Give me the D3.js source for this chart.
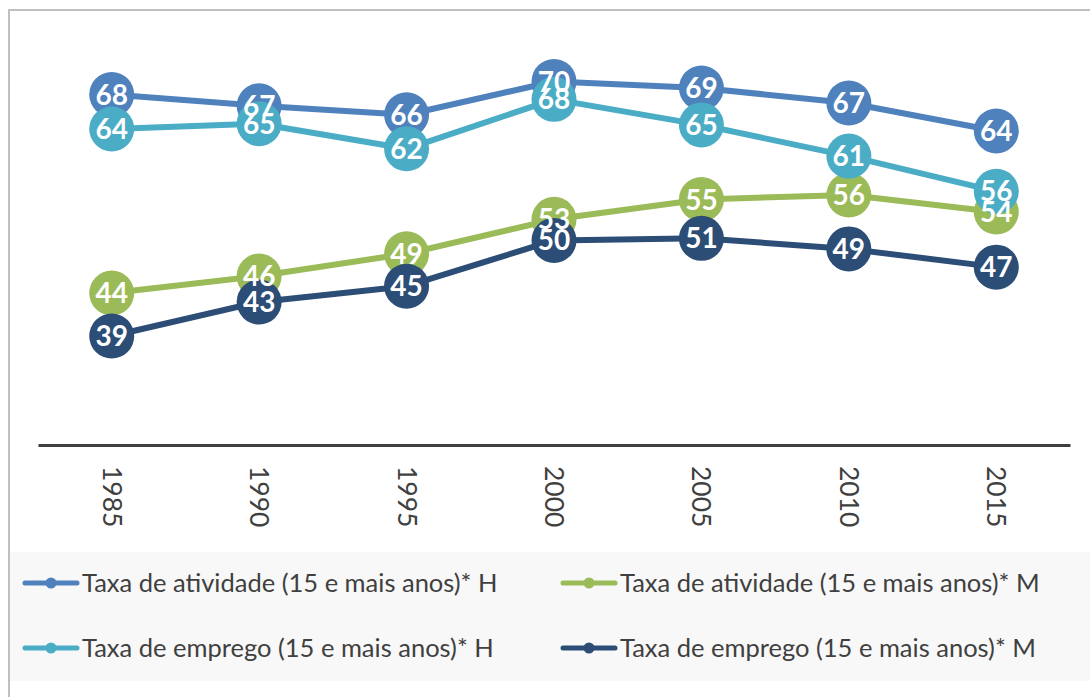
<!DOCTYPE html>
<html>
<head>
<meta charset="utf-8">
<script src="https://cdn.jsdelivr.net/npm/d3@7"></script>
<style>
  html, body { margin: 0; padding: 0; background: #fff; }
  svg { display: block; font-family: Lato, "Open Sans", sans-serif; }
</style>
</head>
<body>
<div id="chart"></div>
<script>
// anos (categorias)
const anos = ['1985', '1990', '1995', '2000', '2005', '2010', '2015'];

// valores (%)
const atividadeH = [68.4, 67.0, 65.9, 70.0, 69.2, 67.35, 63.9];
const atividadeM = [43.9, 46.0, 48.75, 53.0, 55.45, 56.0, 53.9];
const empregoH = [64.15, 64.8, 61.7, 67.8, 64.65, 60.8, 56.45];
const empregoM = [38.6, 42.8, 44.75, 50.4, 50.65, 49.35, 47.1];

const nomes = [
    'Taxa de atividade (15 e mais anos)* H',
    'Taxa de atividade (15 e mais anos)* M',
    'Taxa de emprego (15 e mais anos)* H',
    'Taxa de emprego (15 e mais anos)* M'
];
const cores = ['#4F81BD', '#9BBB59', '#4BACC6', '#2C4D75'];

const series = [atividadeH, atividadeM, empregoH, empregoM].map((valores, i) => ({
    nome: nomes[i],
    cor: cores[i],
    pontos: valores.map((v, j) => ({ ano: anos[j], valor: v }))
}));

const width = 1090, height = 697;

const svg = d3.select('#chart').append('svg')
    .attr('width', width)
    .attr('height', height);

// moldura
svg.append('rect')
    .attr('x', 9).attr('y', 10)
    .attr('width', 1200).attr('height', 800)
    .attr('fill', '#fff')
    .attr('stroke', '#bfbfbf')
    .attr('stroke-width', 2);

const x = d3.scalePoint()
    .domain(anos)
    .range([38, 1070])
    .padding(0.5);

const y = d3.scaleLinear()
    .domain([25.4, 75])
    .range([443, 41]);

// eixo das categorias
const eixo = svg.append('g')
    .attr('transform', 'translate(0,445)')
    .call(d3.axisBottom(x).tickSize(0).tickSizeOuter(0));

eixo.select('.domain')
    .attr('stroke', '#404040')
    .attr('stroke-width', 3);

eixo.selectAll('.tick text')
    .attr('transform', 'rotate(90)')
    .attr('x', 21)
    .attr('y', 0)
    .attr('dy', '0.36em')
    .style('text-anchor', 'start')
    .style('font-family', 'Lato, sans-serif')
    .style('font-size', '26.5px')
    .attr('fill', '#404040');

// linhas + marcadores por série
const linha = d3.line()
    .x(d => x(d.ano))
    .y(d => y(d.valor));

const grupos = svg.selectAll('.serie')
    .data(series)
    .enter()
    .append('g')
    .attr('class', 'serie');

grupos.append('path')
    .attr('d', d => linha(d.pontos))
    .attr('fill', 'none')
    .attr('stroke', d => d.cor)
    .attr('stroke-width', 6)
    .attr('stroke-linejoin', 'round');

grupos.selectAll('circle')
    .data(d => d.pontos.map(p => ({ ...p, cor: d.cor })))
    .enter()
    .append('circle')
    .attr('cx', d => x(d.ano))
    .attr('cy', d => y(d.valor))
    .attr('r', 22.5)
    .attr('fill', d => d.cor);

// rótulos de dados por cima de tudo
const rotulos = series.flatMap(s => s.pontos);

svg.append('g')
    .selectAll('text')
    .data(rotulos)
    .enter()
    .append('text')
    .attr('x', d => x(d.ano))
    .attr('y', d => y(d.valor))
    .attr('dy', '0.36em')
    .attr('text-anchor', 'middle')
    .attr('fill', '#fff')
    .style('font-weight', 'bold')
    .style('font-size', '28px')
    .text(d => d3.format('.0f')(d.valor));

// legenda
svg.append('rect')
    .attr('x', 10).attr('y', 552)
    .attr('width', 1100).attr('height', 129)
    .attr('fill', '#f8f8f8');

const legX = [25, 563], legY = [583, 648];

const itens = svg.selectAll('.legenda')
    .data(series)
    .enter()
    .append('g')
    .attr('class', 'legenda')
    .attr('transform', (d, i) => `translate(${legX[i % 2]},${legY[Math.floor(i / 2)]})`);

itens.append('line')
    .attr('x1', 0).attr('x2', 52)
    .attr('stroke', d => d.cor)
    .attr('stroke-width', 5)
    .attr('stroke-linecap', 'round');

itens.append('circle')
    .attr('cx', 26)
    .attr('r', 5.5)
    .attr('fill', d => d.cor);

itens.append('text')
    .attr('x', 57)
    .attr('dy', '0.36em')
    .attr('fill', '#404040')
    .style('font-size', '25.5px')
    .text(d => d.nome);
</script>
</body>
</html>
